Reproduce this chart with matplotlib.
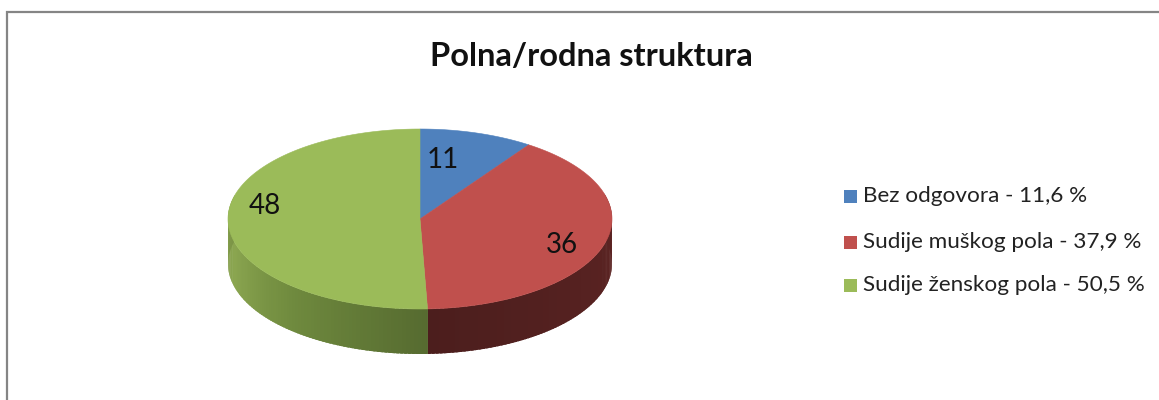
# -*- coding: utf-8 -*-
"""Polna/rodna struktura - tilted 3D-look pie, drawn in pixel coords."""
import numpy as np
import matplotlib; matplotlib.use("Agg")
import matplotlib.pyplot as plt

title = "Polna/rodna struktura"
values = [11, 36, 48]
legend_labels = ["Bez odgovora - 11,6 %", "Sudije muškog pola - 37,9 %", "Sudije ženskog pola - 50,5 %"]
colors = ["#4f81bd", "#c0504d", "#9bbb59"]

W, H = 1159, 400
CX, CY, RX, RY, DEPTH = 420, 219, 192, 90, 45
FONT = "Lato"

fig = plt.figure(figsize=(W / 100, H / 100), dpi=100, facecolor="white")
ax = fig.add_axes([0, 0, 1, 1]); ax.set_xlim(0, W); ax.set_ylim(H, 0); ax.axis("off")

def warp(t):  # perspective squeeze of the far right part of the disc
    return t - 10.8 * np.sin(np.radians(t))
def pt(t, dy=0):
    r = np.radians(warp(t))
    return CX + RX * np.sin(r), CY - RY * np.cos(r) + dy

edges = np.concatenate([[0], np.cumsum(values) / sum(values) * 360])

# side wall, only the front half shows
def mix(a, b, f):
    a, b = matplotlib.colors.to_rgb(a), matplotlib.colors.to_rgb(b)
    return tuple(a[i] + (b[i] - a[i]) * f for i in range(3))
def side_col(t):
    if t < edges[2]:
        return mix("#5f2524", "#4c1e1d", (t - 85) / (edges[2] - 85))
    if t < 215:
        return mix("#566b30", "#6f8a3e", (t - edges[2]) / (215 - edges[2]))
    if t < 245:
        return mix("#6f8a3e", "#8ba650", (t - 215) / 30)
    return mix("#8ba650", "#7b9446", (t - 245) / 30)
ts = np.unique(np.r_[np.arange(85, 276, 1.0), edges[2]])
for t0, t1 in zip(ts[:-1], ts[1:]):
    # each strip runs back under the last one drawn so no seams show
    a = np.linspace(t0 - (0.1 if t0 == edges[2] else 0.7), t1, 4); x, y = pt(a); x2, y2 = pt(a, DEPTH)
    ax.fill(np.r_[x, x2[::-1]], np.r_[y, y2[::-1]], color=side_col(t0), lw=0, zorder=2)

# top face
for i, c in enumerate(colors):
    a = np.linspace(edges[i], edges[i + 1], 200); x, y = pt(a)
    ax.fill(np.r_[CX, x], np.r_[CY, y], color=c, lw=0.4, zorder=3)

# value labels
for v, (lx, ly) in zip(values, [(443, 160), (562, 245), (265, 206)]):
    ax.text(lx, ly, str(v), fontsize=20, family=FONT, color="#111111", ha="center", va="center", zorder=4)

ax.text(591, 56, title, fontsize=23.5, fontweight="bold", family=FONT, color="#111111", ha="center", va="center")

# legend
for lab, c, ly in zip(legend_labels, colors, [196, 242, 285]):
    ax.add_patch(plt.Rectangle((844, ly - 6.5), 13, 13, color=c, lw=0))
    ax.text(863, ly, lab, fontsize=16.2, family=FONT, color="#222222", ha="left", va="center")

# chart frame, top and left only are in view
ax.plot([7, 7, W], [H, 12, 12], color="#858585", lw=1.6, solid_joinstyle="miter")

fig.savefig("out.png", dpi=100)
